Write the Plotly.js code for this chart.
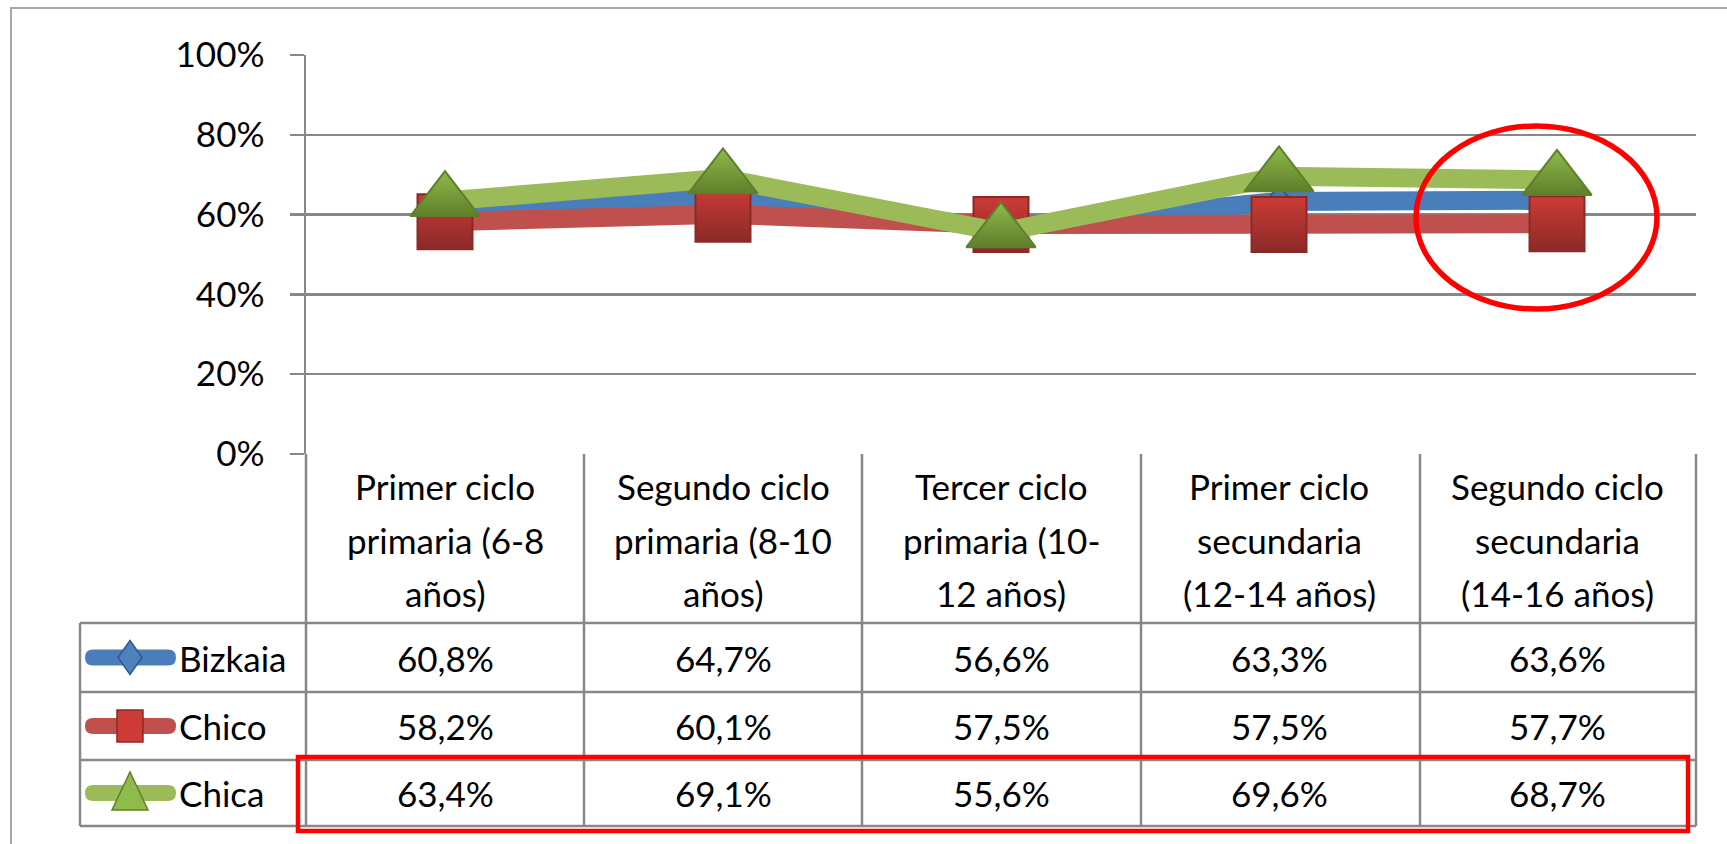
<!DOCTYPE html>
<html>
<head>
<meta charset="utf-8">
<script src="https://cdn.plot.ly/plotly-3.0.1.min.js"></script>
<style>html,body{margin:0;padding:0;background:#fff;}#chart{width:1727px;height:844px;}</style>
</head>
<body>
<div id="chart"></div>
<script>
// ---- data ----
const categories = [
  'Primer ciclo<br>primaria (6-8<br>años)',
  'Segundo ciclo<br>primaria (8-10<br>años)',
  'Tercer ciclo<br>primaria (10-<br>12 años)',
  'Primer ciclo<br>secundaria<br>(12-14 años)',
  'Segundo ciclo<br>secundaria<br>(14-16 años)'
];
const seriesNames = ['Bizkaia', 'Chico', 'Chica'];
const bizkaia = [0.608, 0.647, 0.566, 0.633, 0.636];
const chico   = [0.582, 0.601, 0.575, 0.575, 0.577];
const chica   = [0.634, 0.691, 0.556, 0.696, 0.687];
const yTickVals = [0, 0.2, 0.4, 0.6, 0.8, 1.0];
const yTickText = ['0%', '20%', '40%', '60%', '80%', '100%'];

// ---- layout constants ----
const W = 1727, H = 844, L = 306, R = 31, T = 55, B = 390;
const FONT = 'Lato, Calibri, "Open Sans", sans-serif';
const GRID = '#878787';
const px = x => (x - L) / (W - L - R);
const py = y => (H - B - y) / (H - T - B);

const series = [
  {name: seriesNames[0], y: bizkaia, color: '#4a7ebb', symbol: 'diamond', size: 22, mfill: '#4f81bd', mline: '#2c5a8f'},
  {name: seriesNames[1], y: chico,   color: '#c0504d', symbol: 'square',  size: 55, mfill: '#cc3b36', mline: '#8a2a27'},
  {name: seriesNames[2], y: chica,   color: '#9bbb59', symbol: 'triangle-up', size: 60, mfill: '#8fba4c', mline: '#5f7f2a'}
];

const headerTop = T + (H - T - B); // 454
const headerLineY = [486, 540, 593];
const rowBounds = [623, 692, 760, 826];
const rowCenters = [657.5, 726, 793];
const colBounds = [306, 584, 862, 1141, 1420, 1696];
const tableLeft = 80;

const fmt = v => (v * 100).toFixed(1).replace('.', ',') + '%';

const traces = [];
series.forEach(s => {
  traces.push({
    type: 'scatter', mode: 'lines+markers', x: categories, y: s.y, name: s.name,
    line: {color: s.color, width: 19},
    marker: {symbol: s.symbol, size: s.size, color: s.mfill,
             line: {color: s.mline, width: 2},
             gradient: {type: 'vertical', color: s.mline}},
    cliponaxis: false, hoverinfo: 'skip', showlegend: false
  });
});

const shapes = [];
const line = (x0, y0, x1, y1, color, width) => shapes.push({
  type: 'line', xref: 'paper', yref: 'paper', x0: px(x0), x1: px(x1), y0: py(y0), y1: py(y1),
  line: {color: color, width: width}, layer: 'below'
});
const P = (x, y) => px(x).toFixed(5) + ',' + py(y).toFixed(5);
const pathShape = (d, fill, lc, lw) => shapes.push({type: 'path', xref: 'paper', yref: 'paper', path: d,
  fillcolor: fill, line: {color: lc, width: lw}, layer: 'above'});

// outer border
shapes.push({type: 'rect', xref: 'paper', yref: 'paper', x0: px(11), x1: px(1780), y0: py(8), y1: py(900),
  line: {color: '#a6a6a6', width: 2}, layer: 'below'});
// table horizontal lines
rowBounds.forEach(y => line(tableLeft, y, colBounds[colBounds.length - 1], y, GRID, 2.5));
// table verticals
line(tableLeft, rowBounds[0], tableLeft, rowBounds[rowBounds.length - 1], GRID, 2.5);
colBounds.forEach(x => line(x, headerTop, x, rowBounds[rowBounds.length - 1], GRID, 2.5));

// legend keys in the table's row headers
const keyX0 = 93, keyX1 = 168, keyH = 8, keyCx = 130;
series.forEach((s, k) => {
  const cy = rowCenters[k];
  const stadium = 'M' + P(keyX0, cy - keyH) + ' L' + P(keyX1, cy - keyH) +
    ' Q' + P(keyX1 + keyH, cy - keyH) + ' ' + P(keyX1 + keyH, cy) +
    ' Q' + P(keyX1 + keyH, cy + keyH) + ' ' + P(keyX1, cy + keyH) +
    ' L' + P(keyX0, cy + keyH) +
    ' Q' + P(keyX0 - keyH, cy + keyH) + ' ' + P(keyX0 - keyH, cy) +
    ' Q' + P(keyX0 - keyH, cy - keyH) + ' ' + P(keyX0, cy - keyH) + ' Z';
  pathShape(stadium, s.color, s.color, 0);
  let d;
  if (s.symbol === 'diamond') {
    d = 'M' + P(keyCx, cy - 17) + ' L' + P(keyCx + 12, cy) + ' L' + P(keyCx, cy + 17) + ' L' + P(keyCx - 12, cy) + ' Z';
  } else if (s.symbol === 'square') {
    d = 'M' + P(keyCx - 13, cy - 16) + ' L' + P(keyCx + 13, cy - 16) + ' L' + P(keyCx + 13, cy + 16) + ' L' + P(keyCx - 13, cy + 16) + ' Z';
  } else {
    d = 'M' + P(keyCx, cy - 21) + ' L' + P(keyCx + 18, cy + 17) + ' L' + P(keyCx - 18, cy + 17) + ' Z';
  }
  pathShape(d, s.mfill, s.mline, 1.5);
});

// red highlight rectangle and ellipse
shapes.push({type: 'rect', xref: 'paper', yref: 'paper', x0: px(298), x1: px(1688), y0: py(757), y1: py(831),
  line: {color: '#ff0000', width: 4.5}, layer: 'above'});
shapes.push({type: 'circle', xref: 'paper', yref: 'paper', x0: px(1416), x1: px(1657), y0: py(126), y1: py(309),
  line: {color: '#ff0000', width: 5.5}, layer: 'above'});

const annotations = [];
const textFont = {family: FONT, size: 35, color: '#000'};
categories.forEach((c, i) => {
  c.split('<br>').forEach((t, j) => {
    annotations.push({xref: 'x', yref: 'paper', x: c, y: py(headerLineY[j]), text: t,
      showarrow: false, xanchor: 'center', yanchor: 'middle', font: textFont});
  });
});
series.forEach((s, k) => {
  annotations.push({xref: 'paper', yref: 'paper', x: px(177), y: py(rowCenters[k]), text: s.name,
    showarrow: false, xanchor: 'left', yanchor: 'middle', font: textFont});
  s.y.forEach((v, i) => {
    annotations.push({xref: 'x', yref: 'paper', x: categories[i], y: py(rowCenters[k]), text: fmt(v),
      showarrow: false, xanchor: 'center', yanchor: 'middle', font: textFont});
  });
});

const layout = {
  width: W, height: H,
  margin: {l: L, r: R, t: T, b: B, pad: 0},
  paper_bgcolor: '#fff', plot_bgcolor: '#fff',
  showlegend: false,
  font: {family: FONT, color: '#000'},
  xaxis: {type: 'category', range: [-0.5, 4.5], showticklabels: false, showgrid: false,
          zeroline: false, showline: false, ticks: '', fixedrange: true},
  yaxis: {range: [0, 1], tickvals: yTickVals, ticktext: yTickText, showgrid: true,
          gridcolor: GRID, gridwidth: 2.5, zeroline: false, showline: true, linecolor: GRID,
          linewidth: 2.5, ticks: 'outside', ticklen: 14, tickwidth: 2.5, tickcolor: GRID,
          tickfont: {family: FONT, size: 35, color: '#000'}, ticklabelstandoff: 18, fixedrange: true},
  shapes: shapes,
  annotations: annotations
};

Plotly.newPlot('chart', traces, layout, {displayModeBar: false, staticPlot: true});
</script>
</body>
</html>
